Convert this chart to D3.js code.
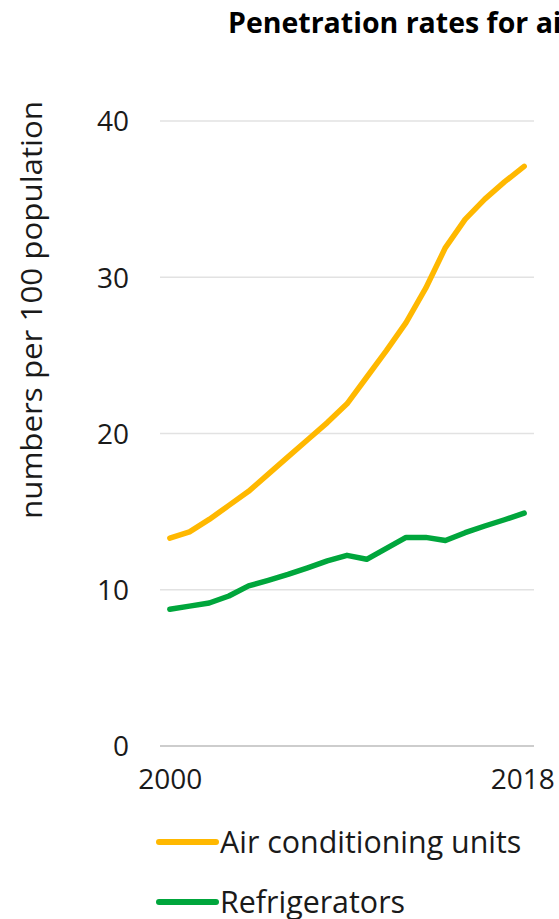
<!DOCTYPE html>
<html>
<head>
<meta charset="utf-8">
<script src="https://cdn.jsdelivr.net/npm/d3@7"></script>
<style>
  html, body { margin: 0; padding: 0; background: #fff; overflow: hidden; }
  svg { display: block; font-family: "Open Sans", "Noto Sans", sans-serif; }
</style>
</head>
<body>
<svg id="chart" width="559" height="919"></svg>
<script>
// Household appliance penetration, numbers per 100 population
const years = [2000, 2001, 2002, 2003, 2004, 2005, 2006, 2007, 2008, 2009,
               2010, 2011, 2012, 2013, 2014, 2015, 2016, 2017, 2018];
const airConditioning = [13.3, 13.7, 14.5, 15.4, 16.3, 17.4, 18.5, 19.6, 20.7, 21.9,
                         23.6, 25.3, 27.1, 29.3, 31.9, 33.7, 35.0, 36.1, 37.1];
const refrigerators = [8.75, 8.95, 9.15, 9.6, 10.25, 10.6, 10.98, 11.4, 11.85, 12.2,
                       11.95, 12.65, 13.35, 13.35, 13.15, 13.65, 14.08, 14.48, 14.9];
const yTicks = [0, 10, 20, 30, 40];
const xTickLabels = [2000, 2018];
const seriesNames = ["Air conditioning units", "Refrigerators"];
const seriesColors = ["#FFB800", "#00A63C"];

const svg = d3.select("#chart");

const plot = { left: 160, right: 534, top: 121, bottom: 746 };

const x = d3.scalePoint()
  .domain(years)
  .range([plot.left, plot.right])
  .padding(0.5);

const y = d3.scaleLinear()
  .domain([0, 40])
  .range([plot.bottom, plot.top]);

// title
svg.append("text")
  .attr("x", 228)
  .attr("y", 33)
  .attr("font-size", 28.5)
  .attr("font-weight", "bold")
  .attr("fill", "#000")
  .text("Penetration rates for air conditioning units and refrigerators");

// horizontal gridlines
svg.append("g")
  .selectAll("line")
  .data(yTicks)
  .join("line")
  .attr("x1", plot.left)
  .attr("x2", plot.right)
  .attr("y1", d => y(d))
  .attr("y2", d => y(d))
  .attr("stroke", d => d === 0 ? "#bdbdbd" : "#e2e2e2")
  .attr("stroke-width", 1.3);

// y axis labels
const yAxis = d3.axisLeft(y).tickValues(yTicks).tickSize(0).tickPadding(0);
svg.append("g")
  .attr("transform", `translate(129,0)`)
  .call(yAxis)
  .call(g => g.select(".domain").remove())
  .call(g => g.selectAll("text")
    .attr("font-size", 28)
    .attr("font-family", "'Open Sans', sans-serif")
    .attr("fill", "#1a1a1a")
    .attr("dy", "0.35em"));

// x axis labels (first and last year)
const xAxis = d3.axisBottom(x).tickValues(xTickLabels).tickSize(0).tickPadding(0);
svg.append("g")
  .attr("transform", `translate(0,${plot.bottom + 22})`)
  .call(xAxis)
  .call(g => g.select(".domain").remove())
  .call(g => g.selectAll("text")
    .attr("font-size", 28)
    .attr("font-family", "'Open Sans', sans-serif")
    .attr("fill", "#1a1a1a")
    .attr("dy", "0.75em"))
  .call(g => g.selectAll(".tick").filter(d => d === 2018).select("text")
    .attr("dx", -2));

// y axis title
svg.append("text")
  .attr("transform", `translate(42,${(100 + 520) / 2}) rotate(-90)`)
  .attr("text-anchor", "middle")
  .attr("font-size", 30)
  .attr("textLength", 418)
  .attr("lengthAdjust", "spacingAndGlyphs")
  .attr("fill", "#1a1a1a")
  .text("numbers per 100 population");

// series lines
const line = d3.line()
  .x((d, i) => x(years[i]))
  .y(d => y(d));

[airConditioning, refrigerators].forEach((vals, i) => {
  svg.append("path")
    .datum(vals)
    .attr("d", line)
    .attr("fill", "none")
    .attr("stroke", seriesColors[i])
    .attr("stroke-width", 5.5)
    .attr("stroke-linecap", "round")
    .attr("stroke-linejoin", "round");
});

// legend
const legend = svg.append("g");
seriesNames.forEach((name, i) => {
  const ly = 842 + i * 60;
  legend.append("line")
    .attr("x1", 159).attr("x2", 216)
    .attr("y1", ly).attr("y2", ly)
    .attr("stroke", seriesColors[i])
    .attr("stroke-width", 6)
    .attr("stroke-linecap", "round");
  legend.append("text")
    .attr("x", 220)
    .attr("y", ly)
    .attr("dy", "0.35em")
    .attr("font-size", 30.4)
    .attr("fill", "#1a1a1a")
    .text(name);
});
</script>
</body>
</html>
